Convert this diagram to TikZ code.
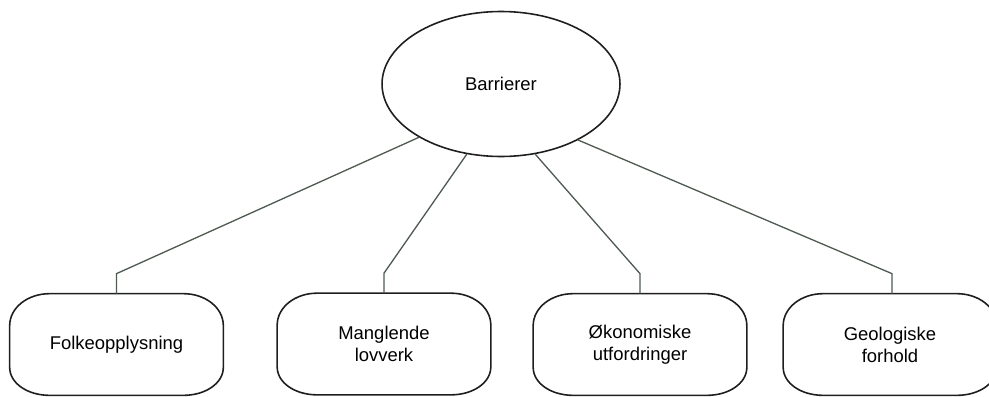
\documentclass[tikz,border=0pt]{standalone}
\usepackage{fontspec}
\setmainfont{Liberation Sans}
\usepackage{xcolor}
\usetikzlibrary{shapes.geometric,positioning,calc}

\definecolor{linkgray}{HTML}{4F5B50}
\definecolor{outline}{HTML}{1E1E1E}

% box outline with elliptical corners round a named node
\newcommand{\capsule}[1]{%
  \draw[boxline] ($(#1.north west)+(40,0)$) -- ($(#1.north east)+(-40,0)$)
    .. controls ($(#1.north east)+(-18,0)$) and ($(#1.north east)+(0,14)$) .. ($(#1.north east)+(0,32)$)
    -- ($(#1.south east)+(0,-28)$)
    .. controls ($(#1.south east)+(0,-12)$) and ($(#1.south east)+(-18,0)$) .. ($(#1.south east)+(-40,0)$)
    -- ($(#1.south west)+(40,0)$)
    .. controls ($(#1.south west)+(18,0)$) and ($(#1.south west)+(0,-12)$) .. ($(#1.south west)+(0,-28)$)
    -- ($(#1.north west)+(0,32)$)
    .. controls ($(#1.north west)+(0,14)$) and ($(#1.north west)+(18,0)$) .. cycle;}

\begin{document}
\begin{tikzpicture}[x=0.02cm, y=-0.02cm,
  root/.style={ellipse, draw=outline, line width=0.9pt, minimum width=4.76cm,
    minimum height=2.9cm, inner sep=0pt, font=\fontsize{10.5}{13}\selectfont},
  cause/.style={minimum width=4.26cm, minimum height=2.02cm, inner sep=0pt,
    align=center, font=\fontsize{10.5}{12.5}\selectfont},
  boxline/.style={draw=outline, line width=0.9pt},
  link/.style={draw=linkgray, line width=0.75pt}]
  \useasboundingbox (0,0) rectangle (989,396);

  \node[root] (barr) at (501,84) {Barrierer};

  \node[cause] (folk)  at (116.5,344.5) {Folkeopplysning};
  \node[cause] (lov)   at (384,344) {Manglende\\lovverk};
  \node[cause] (okon)  at (640,344.5) {Økonomiske\\utfordringer};
  \node[cause] (geo)   at (890,344.5) {Geologiske\\forhold};

  \capsule{folk}
  \capsule{lov}
  \capsule{okon}
  \capsule{geo}

  % connectors: slanted, then straight down onto each box
  \draw[link] (barr.213) -- ($(folk.north)+(0,-20)$) -- (folk.north);
  \draw[link] (barr.244) -- ($(lov.north)+(0,-20)$) -- (lov.north);
  \draw[link] (barr.296) -- ($(okon.north)+(0,-20)$) -- (okon.north);
  \draw[link] (barr.324) -- ($(geo.north)+(2,-20)$) -- ($(geo.north)+(2,0)$);
\end{tikzpicture}
\end{document}
